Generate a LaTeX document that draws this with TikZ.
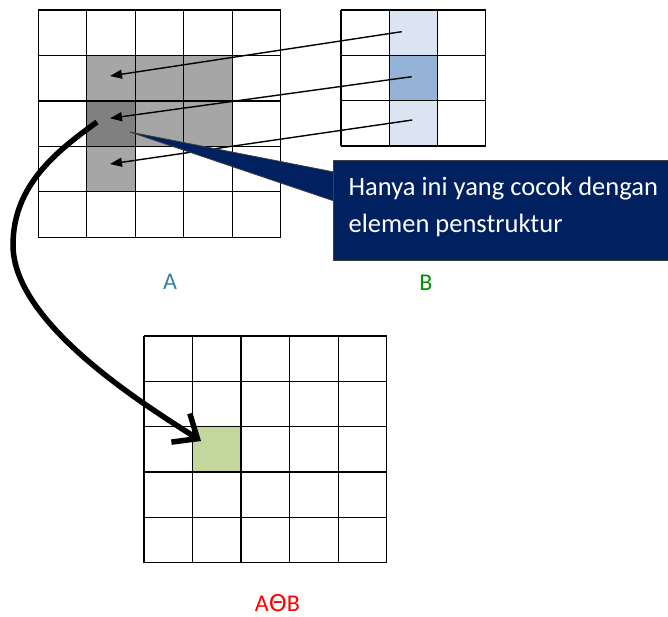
\documentclass[tikz,border=0pt]{standalone}
\usepackage{fontspec}
\setmainfont{Carlito}
\newfontfamily\dejavu{DejaVu Sans}
\usetikzlibrary{arrows.meta}
\definecolor{navy}{HTML}{002060}
\definecolor{lgray}{HTML}{A6A6A6}
\definecolor{dgray}{HTML}{808080}
\definecolor{lblue}{HTML}{DBE5F1}
\definecolor{mblue}{HTML}{95B3D7}
\definecolor{lgreen}{HTML}{C3D69B}
\definecolor{teal}{HTML}{31859C}
\definecolor{dgreen}{HTML}{009000}
\tikzset{
  gridline/.style={line width=1.3pt, black},
  thinarrow/.style={line width=1.4pt, -{Triangle[length=12pt,width=9pt]}},
  bigarrow/.style={line width=5.5pt, -{Straight Barb[length=20pt,width=34pt]}},
  callout/.style={fill=navy, draw=black!75, line width=0.8pt},
  calltext/.style={text=white, font=\fontsize{26.5}{31}\selectfont, inner sep=0pt, anchor=base west},
  lbl/.style={font=\fontsize{24}{28}\selectfont, inner sep=0pt, anchor=base, text depth=0pt}
}
\begin{document}
\begin{tikzpicture}[x=1pt,y=-1pt]
\useasboundingbox (0,0) rectangle (668,617);
% ---------- grid A fills ----------
\def\ax{38.3}\def\ay{10}\def\aw{48.48}\def\ah{45.46}
\foreach \r/\c/\col in {1/1/lgray,1/2/lgray,1/3/lgray,2/1/dgray,2/2/lgray,2/3/lgray,3/1/lgray}
  \fill[\col] ({\ax+\aw*\c},{\ay+\ah*\r}) rectangle ++(\aw,\ah);
\foreach \i in {0,...,5} {
  \draw[gridline] ({\ax+\aw*\i},\ay) -- ({\ax+\aw*\i},{\ay+5*\ah});
  \draw[gridline] (\ax,{\ay+\ah*\i}) -- ({\ax+5*\aw},{\ay+\ah*\i});
}
% ---------- grid B ----------
\def\bx{341}\def\by{10}\def\bw{48.23}\def\bh{45.33}
\foreach \r/\col in {0/lblue,1/mblue,2/lblue}
  \fill[\col] ({\bx+\bw},{\by+\bh*\r}) rectangle ++(\bw,\bh);
\foreach \i in {0,...,3} {
  \draw[gridline] ({\bx+\bw*\i},\by) -- ({\bx+\bw*\i},{\by+3*\bh});
  \draw[gridline] (\bx,{\by+\bh*\i}) -- ({\bx+3*\bw},{\by+\bh*\i});
}
% ---------- grid C ----------
\def\cx{144}\def\cy{336}\def\cw{48.54}\def\ch{45.34}
\fill[lgreen] ({\cx+\cw},{\cy+2*\ch}) rectangle ++(\cw,\ch);
\foreach \i in {0,...,5} {
  \draw[gridline] ({\cx+\cw*\i},\cy) -- ({\cx+\cw*\i},{\cy+5*\ch});
  \draw[gridline] (\cx,{\cy+\ch*\i}) -- ({\cx+5*\cw},{\cy+\ch*\i});
}
% ---------- coordinates ----------
\coordinate (b1) at (401.7,31.7);
\coordinate (b2) at (411.7,76.7);
\coordinate (b3) at (412.3,120);
\coordinate (a1) at (110,76);
\coordinate (a2) at (110,118.3);
\coordinate (a3) at (110,164);
\coordinate (ptip) at (130,132);
\coordinate (pb1) at (334,172);
\coordinate (pb2) at (334,201);
\coordinate (cs) at (97,122);
\coordinate (bend) at (13,245);
\coordinate (ce) at (201,441);
% ---------- thin arrows ----------
\draw[thinarrow] (b1) -- (a1);
\draw[thinarrow] (b2) -- (a2);
\draw[thinarrow] (b3) -- (a3);
% ---------- callout ----------
\filldraw[callout] (ptip) -- (pb1) -- (pb2) -- cycle;
\filldraw[callout] (333.5,160) rectangle (672,260);
\node[calltext] (t1) at (348.5,196) {Hanya ini yang cocok dengan};
\node[calltext] (t2) at (348.5,233) {elemen penstruktur};
% ---------- big curved arrow ----------
\draw[bigarrow] (cs) .. controls (57,151) and (13,185) .. (bend)
  .. controls (13,325) and (150,408) .. (ce);
% ---------- labels ----------
\node[lbl, text=teal] (la) at (170,289.5) {A};
\node[lbl, text=dgreen] (lb) at (426,290) {B};
\node[lbl, text=red] (lab) at (277.5,611.5) {A{\dejavu\fontsize{23}{28}\selectfont Θ}B};
\end{tikzpicture}
\end{document}
